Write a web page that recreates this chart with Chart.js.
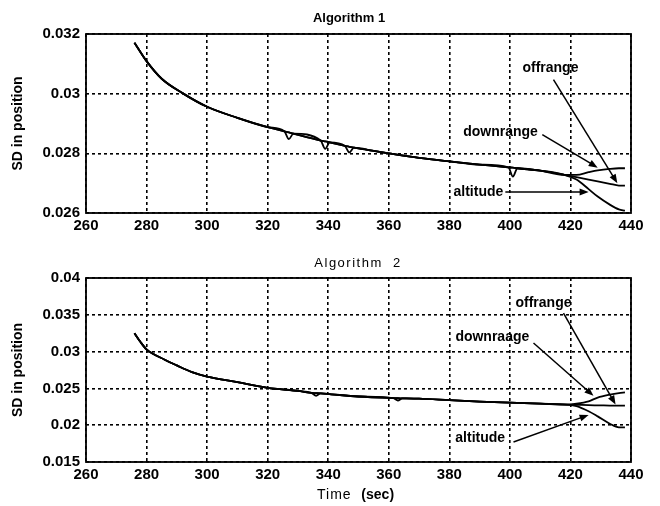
<!DOCTYPE html>
<html>
<head>
<meta charset="utf-8">
<script src="https://cdn.jsdelivr.net/npm/chart.js@4/dist/chart.umd.min.js"></script>
<style>
  body { margin: 0; background: #fff; }
  #wrap { position: relative; width: 660px; height: 506px; }
  #wrap canvas { position: absolute; left: 0; }
  #top { top: 0; }
  #bottom { top: 250px; }
</style>
</head>
<body>
<div id="wrap">
  <canvas id="top" width="660" height="250"></canvas>
  <canvas id="bottom" width="660" height="256"></canvas>
</div>
<script>
// --- Data: Algorithm 1 ---
const time1 = [276, 280, 285, 292, 300, 310, 320, 325.5, 327, 328.5, 337.5, 339, 340.5, 345.5, 347, 348.5,
  355, 360, 370, 380, 390, 399.5, 401, 402.5, 410, 418, 422, 426, 429, 433, 436, 438];
const down1 = [0.03171, 0.03109, 0.0305, 0.03001, 0.02956, 0.02919, 0.02888, 0.02874, 0.0287, 0.02866,
  0.02843, 0.0284, 0.02837, 0.02825, 0.02822, 0.02819, 0.02808, 0.028, 0.02785, 0.02773, 0.02762, 0.02753,
  0.02752, 0.0275, 0.02742, 0.02728, 0.02728, 0.02737, 0.02743, 0.02748, 0.0275, 0.0275];
const off1 = [0.03171, 0.03109, 0.0305, 0.03001, 0.02956, 0.02919, 0.02888, 0.02874, 0.02848, 0.02866,
  0.02843, 0.02815, 0.02837, 0.02825, 0.02803, 0.02819, 0.02808, 0.028, 0.02785, 0.02773, 0.02762, 0.02753,
  0.02722, 0.0275, 0.02742, 0.02728, 0.0272, 0.02712, 0.02706, 0.02698, 0.02692, 0.02692];
const alt1 = [0.03171, 0.03109, 0.0305, 0.03001, 0.02956, 0.02919, 0.02888, 0.02874, 0.0287, 0.02866,
  0.02843, 0.0284, 0.02837, 0.02825, 0.02822, 0.02819, 0.02808, 0.028, 0.02785, 0.02773, 0.02762, 0.02753,
  0.02752, 0.0275, 0.02742, 0.02728, 0.02712, 0.0268, 0.02655, 0.02628, 0.02612, 0.02608];

// --- Data: Algorithm 2 ---
const time2 = [276, 278, 280, 286, 290, 295, 300, 310, 320, 330, 334.5, 336, 337.5, 341, 350, 361.5, 363, 364.5,
  370, 380, 390, 400, 410, 419, 422, 426, 429, 433, 436, 438];
const down2 = [0.0325, 0.0313, 0.0303, 0.0289, 0.02812, 0.02722, 0.02661, 0.02584, 0.02507, 0.02465, 0.0244,
  0.02436, 0.02432, 0.0242, 0.0239, 0.02368, 0.02366, 0.02365, 0.0236, 0.0234, 0.0232, 0.02306, 0.02293, 0.0228,
  0.02292, 0.02325, 0.02375, 0.02415, 0.02437, 0.02447];
const off2 = [0.0325, 0.0313, 0.0303, 0.0289, 0.02812, 0.02722, 0.02661, 0.02584, 0.02507, 0.02465, 0.0244,
  0.024, 0.02432, 0.0242, 0.0239, 0.02368, 0.02335, 0.02365, 0.0236, 0.0234, 0.0232, 0.02306, 0.02293, 0.0228,
  0.02277, 0.02272, 0.0227, 0.02267, 0.02265, 0.02265];
const alt2 = [0.0325, 0.0313, 0.0303, 0.0289, 0.02812, 0.02722, 0.02661, 0.02584, 0.02507, 0.02465, 0.0244,
  0.02436, 0.02432, 0.0242, 0.0239, 0.02368, 0.02366, 0.02365, 0.0236, 0.0234, 0.0232, 0.02306, 0.02293, 0.0228,
  0.0226, 0.0219, 0.0212, 0.0202, 0.0197, 0.0197];

// axis ranges
const xRange = [260, 440, 20];
const yRange1 = [0.026, 0.032, 0.002];
const yRange2 = [0.015, 0.04, 0.005];

// labels with arrows (data coords): text at, arrow from -> to
const notes1 = [
  { text: 'offrange', at: [413.4, 0.03087], from: [414.4, 0.03047], to: [435.5, 0.02700] },
  { text: 'downrange', at: [396.9, 0.0287], from: [410.7, 0.02863], to: [429, 0.02752] },
  { text: 'altitude', at: [389.6, 0.0267], from: [398.5, 0.0267], to: [426, 0.0267] }
];
const notes2 = [
  { text: 'offrange', at: [411.1, 0.0366], from: [417.7, 0.03524], to: [434.9, 0.0228] },
  { text: 'downraage', at: [394.2, 0.03198], from: [407.8, 0.03117], to: [427.6, 0.0240] },
  { text: 'altitude', at: [390.2, 0.01826], from: [401.2, 0.01772], to: [426, 0.02139] }
];

const FONT = '"Liberation Sans", Arial, sans-serif';
Chart.defaults.font.family = FONT;
Chart.defaults.color = '#000';

function toPoints(xs, ys) {
  return xs.map((x, i) => ({ x: x, y: ys[i] }));
}

function drawArrow(ctx, x1, y1, x2, y2) {
  const ang = Math.atan2(y2 - y1, x2 - x1);
  const len = 9, half = 3.5;
  ctx.beginPath();
  ctx.moveTo(x1, y1);
  ctx.lineTo(x2 - Math.cos(ang) * len * 0.8, y2 - Math.sin(ang) * len * 0.8);
  ctx.stroke();
  ctx.beginPath();
  ctx.moveTo(x2, y2);
  ctx.lineTo(x2 - Math.cos(ang) * len - Math.sin(ang) * half, y2 - Math.sin(ang) * len + Math.cos(ang) * half);
  ctx.lineTo(x2 - Math.cos(ang) * len + Math.sin(ang) * half, y2 - Math.sin(ang) * len - Math.cos(ang) * half);
  ctx.closePath();
  ctx.fill();
}

// frame, titles and annotations
const decor = {
  id: 'decor',
  afterDraw(chart, args, opts) {
    const { ctx, chartArea: a, scales: { x, y } } = chart;
    ctx.save();
    ctx.strokeStyle = '#000';
    ctx.fillStyle = '#000';
    ctx.lineWidth = 1.8;
    ctx.strokeRect(a.left, a.top, a.right - a.left, a.bottom - a.top);

    ctx.font = 'bold 14px ' + FONT;
    ctx.textAlign = 'center';
    ctx.textBaseline = 'middle';
    ctx.lineWidth = 1.5;
    opts.notes.forEach(n => {
      ctx.fillText(n.text, x.getPixelForValue(n.at[0]), y.getPixelForValue(n.at[1]));
      drawArrow(ctx, x.getPixelForValue(n.from[0]), y.getPixelForValue(n.from[1]),
        x.getPixelForValue(n.to[0]), y.getPixelForValue(n.to[1]));
    });

    // title
    ctx.font = opts.titleFont;
    if (opts.spacing) ctx.letterSpacing = opts.spacing;
    ctx.fillText(opts.title, opts.titlePos[0], opts.titlePos[1]);
    ctx.letterSpacing = '0px';

    if (opts.xLabel) {
      ctx.textAlign = 'left';
      ctx.font = '14px ' + FONT;
      ctx.letterSpacing = '1px';
      ctx.fillText('Time ', 317, opts.xLabelY);
      const w = ctx.measureText('Time  ').width;
      ctx.letterSpacing = '0px';
      ctx.font = 'bold 14px ' + FONT;
      ctx.fillText('(sec)', 317 + w, opts.xLabelY);
    }
    ctx.restore();
  }
};

function makeChart(id, times, series, yr, notes, extra) {
  const ds = series.map(s => ({
    data: toPoints(times, s),
    borderColor: '#000',
    borderWidth: 1.8,
    pointRadius: 0,
    fill: false,
    cubicInterpolationMode: 'monotone'
  }));
  return new Chart(document.getElementById(id), {
    type: 'line',
    data: { datasets: ds },
    options: {
      responsive: false,
      animation: false,
      layout: { padding: { left: 0, right: 29, top: extra.top, bottom: 0 } },
      plugins: {
        legend: { display: false },
        tooltip: { enabled: false },
        decor: Object.assign({ notes: notes }, extra)
      },
      scales: {
        x: {
          type: 'linear',
          min: xRange[0], max: xRange[1],
          ticks: { stepSize: xRange[2], padding: 4, font: { size: 15, weight: 'bold' }, maxRotation: 0 },
          grid: { color: '#000', lineWidth: 1.6, drawTicks: false },
          border: { display: false, dash: [3, 3] },
          afterFit: s => { s.height = extra.xh; }
        },
        y: {
          min: yr[0], max: yr[1],
          ticks: {
            stepSize: yr[2], padding: 6, font: { size: 15, weight: 'bold' },
            callback: v => String(parseFloat(v.toFixed(4)))
          },
          grid: { color: '#000', lineWidth: 1.6, drawTicks: false },
          border: { display: false, dash: [3, 3] },
          title: { display: true, text: 'SD in position', font: { size: 14, weight: 'bold' }, padding: { top: 10, bottom: 0 } },
          afterFit: s => { s.width = 86; }
        }
      }
    },
    plugins: [decor]
  });
}

makeChart('top', time1, [down1, off1, alt1], yRange1, notes1, {
  top: 34, xh: 37,
  title: 'Algorithm 1', titleFont: 'bold 13px ' + FONT, titlePos: [349, 18]
});
makeChart('bottom', time2, [down2, off2, alt2], yRange2, notes2, {
  top: 28, xh: 44,
  title: 'Algorithm  2', titleFont: '13px ' + FONT, spacing: '1.5px', titlePos: [358, 13],
  xLabel: true, xLabelY: 245
});
</script>
</body>
</html>
